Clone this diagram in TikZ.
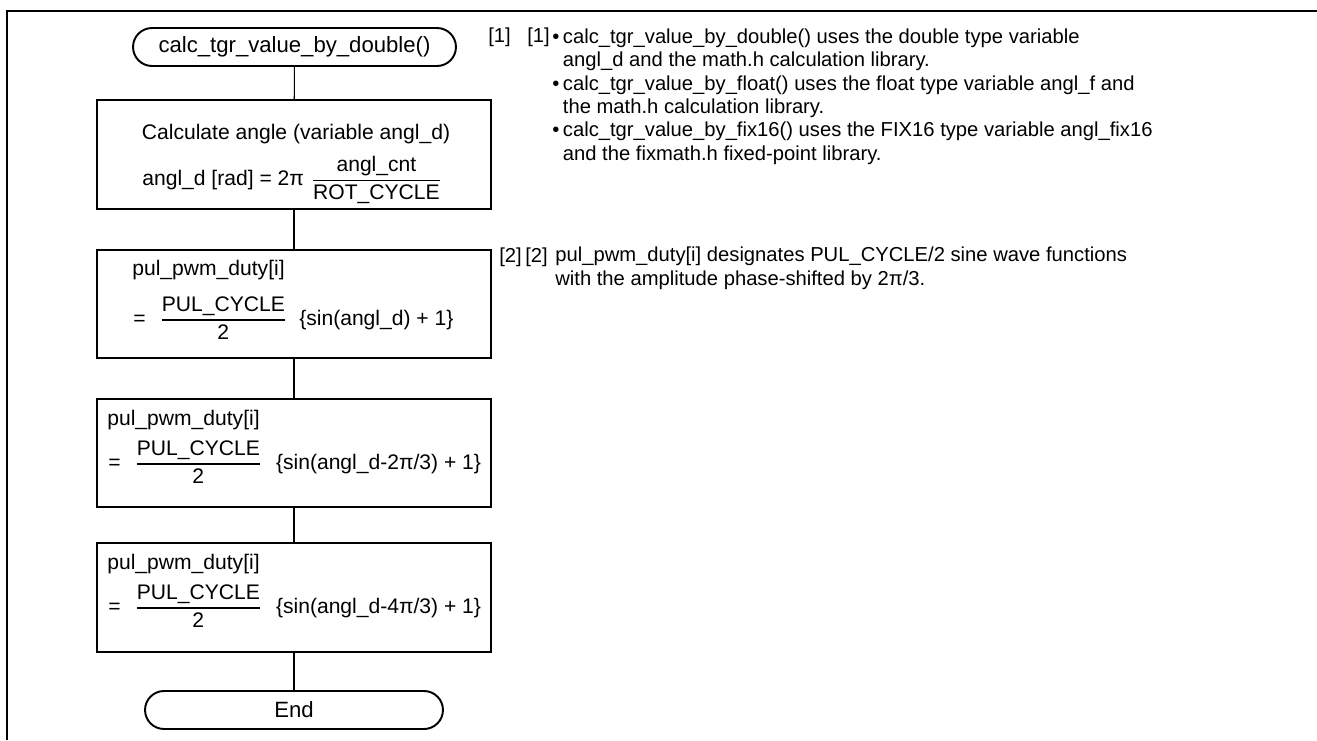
\documentclass[tikz,border=0pt]{standalone}
\usepackage{amsmath}
\usepackage{fontspec}
\setmainfont{Liberation Sans}
\usetikzlibrary{shapes.misc}
\newcommand{\pfrac}[2]{\(\genfrac{}{}{0.6pt}{0}{\mbox{#1}}{\mbox{#2}}\)}

\begin{document}
\begin{tikzpicture}[x=0.02cm, y=-0.02cm,
	txt/.style={inner sep=0pt, font=\fontsize{12}{13.3}\selectfont},
	big/.style={inner sep=0pt, font=\fontsize{12.6}{13.3}\selectfont},
	note/.style={inner sep=0pt, font=\fontsize{11.5}{13.26}\selectfont},
	term/.style={draw, line width=1.1pt, rounded rectangle, minimum height=0.76cm, inner sep=0pt},
	proc/.style={draw, line width=1.1pt, rectangle, minimum width=7.88cm, minimum height=2.17cm, inner sep=0pt},
	flow/.style={line width=0.6pt}]
			%%%%% START %%%%%
			\useasboundingbox (0, 0) rectangle (1317, 740);
			\draw[line width=1.2pt] (1317, 11) -- (7, 11) -- (7, 740);
			
			% flow chart
			\node[term, minimum width=6.46cm] (start) at (294.5, 47) {};
			\node[proc] (angle) at (294, 154.5) {};
			\node[proc] (dutyA) at (294, 304) {};
			\node[proc] (dutyB) at (294, 453) {};
			\node[proc] (dutyC) at (294, 597.5) {};
			\node[term, minimum width=5.96cm] (stop) at (294, 710) {};
			
			\draw[flow] (start) -- (angle);
			\draw[flow] (angle) -- (dutyA);
			\draw[flow] (dutyA) -- (dutyB);
			\draw[flow] (dutyB) -- (dutyC);
			\draw[flow] (dutyC) -- (stop);
			
			\node[big] (startT) at (start) {calc\_tgr\_value\_by\_double()};
			\node[big] (stopT) at (stop) {End};
			
			\node[txt] (angleA) at (296, 134) {Calculate angle (variable angl\_d)};
			\node[txt, anchor=west] (angleB) at (142, 180) {angl\_d [rad] = 2π\hspace{4pt}\pfrac{angl\_cnt}{ROT\_CYCLE}};
			
			\node[txt, anchor=west] (dutyAa) at (132, 270) {pul\_pwm\_duty[i]};
			\node[txt, anchor=west] (dutyAb) at (133, 318) {=\hspace{8pt}\pfrac{PUL\_CYCLE}{2}\hspace{7pt}\{sin(angl\_d) + 1\}};
			
			\node[txt, anchor=west] (dutyBa) at (107, 420) {pul\_pwm\_duty[i]};
			\node[txt, anchor=west] (dutyBb) at (108, 462) {=\hspace{8pt}\pfrac{PUL\_CYCLE}{2}\hspace{8pt}\{sin(angl\_d-2π/3) + 1\}};
			
			\node[txt, anchor=west] (dutyCa) at (107, 564) {pul\_pwm\_duty[i]};
			\node[txt, anchor=west] (dutyCb) at (108, 606) {=\hspace{8pt}\pfrac{PUL\_CYCLE}{2}\hspace{8pt}\{sin(angl\_d-4π/3) + 1\}};
			
			% notes
			\node[note, anchor=west] (noteA) at (488, 37) {[1]};
			\node[note, anchor=west] (noteAb) at (527, 37) {[1]};
			\node[note, anchor=north west] (noteAt) at (552, 27) {\begin{tabular}{@{}l@{\hspace{2pt}}l@{}}
					• & calc\_tgr\_value\_by\_double() uses the double type variable\\
					& angl\_d and the math.h calculation library.\\
					• & calc\_tgr\_value\_by\_float() uses the float type variable angl\_f and\\
					& the math.h calculation library.\\
					• & calc\_tgr\_value\_by\_fix16() uses the FIX16 type variable angl\_fix16\\
					& and the fixmath.h fixed-point library.
				\end{tabular}};
			
			\node[note, anchor=west] (noteB) at (499, 257) {[2]};
			\node[note, anchor=west] (noteBb) at (525, 257) {[2]};
			\node[note, anchor=north west, align=left] (noteBt) at (555, 247) {pul\_pwm\_duty[i] designates PUL\_CYCLE/2 sine wave functions\\
				with the amplitude phase-shifted by 2π/3.};
			%%%%% END %%%%%
\end{tikzpicture}
\end{document}
